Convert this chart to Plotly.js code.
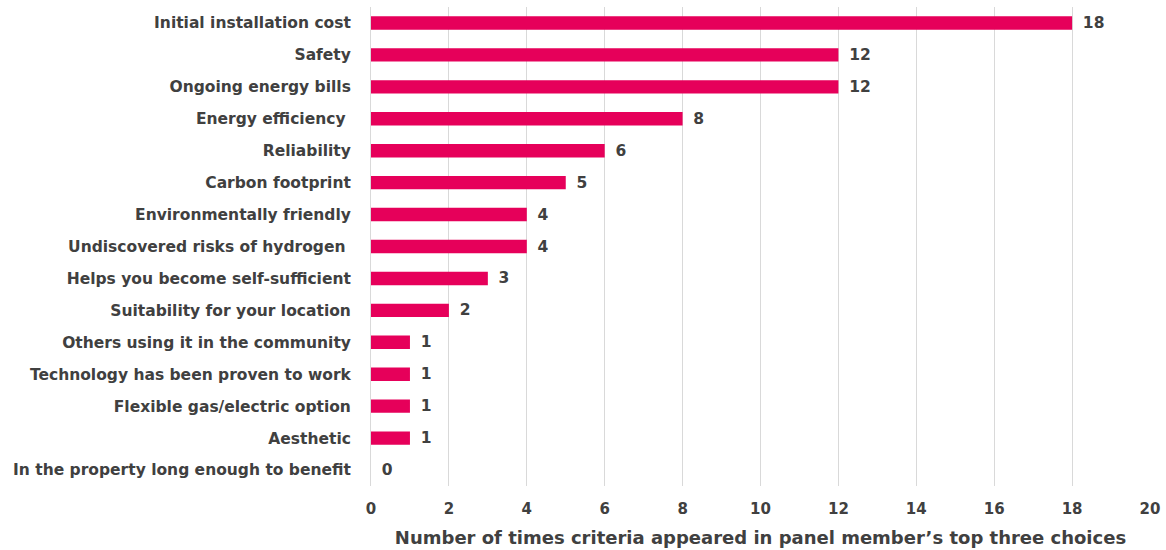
<!DOCTYPE html>
<html>
<head>
<meta charset="utf-8">
<script src="https://cdn.plot.ly/plotly-3.0.1.min.js"></script>
<style>html,body{margin:0;padding:0;background:#fff;}#chart{width:1166px;height:550px;}</style>
</head>
<body>
<div id="chart"></div>
<script>
const categories = [
  "Initial installation cost",
  "Safety",
  "Ongoing energy bills",
  "Energy efficiency\u00a0",
  "Reliability",
  "Carbon footprint",
  "Environmentally friendly",
  "Undiscovered risks of hydrogen\u00a0",
  "Helps you become self-sufficient",
  "Suitability for your location",
  "Others using it in the community",
  "Technology has been proven to work",
  "Flexible gas/electric option",
  "Aesthetic",
  "In the property long enough to benefit"
];
const counts = [18, 12, 12, 8, 6, 5, 4, 4, 3, 2, 1, 1, 1, 1, 0];
const xTicks = [0, 2, 4, 6, 8, 10, 12, 14, 16, 18, 20];
const axisTitle = "Number of times criteria appeared in panel member\u2019s top three choices";

const fontFam = "'DejaVu Sans', sans-serif";
const txtColor = "#404040";

const trace = {
  type: "bar",
  orientation: "h",
  y: categories,
  x: counts,
  width: 0.42,
  marker: {color: "#E6005A"},
  text: counts.map(v => "\u2002" + v),
  textposition: "outside",
  constraintext: "none",
  textfont: {family: fontFam, size: 15.5, color: txtColor, weight: "bold"},
  cliponaxis: false,
  hoverinfo: "none"
};

const layout = {
  width: 1166,
  height: 550,
  margin: {l: 371, r: 16, t: 7, b: 64},
  paper_bgcolor: "#fff",
  plot_bgcolor: "#fff",
  showlegend: false,
  font: {family: fontFam, size: 15, color: txtColor, weight: "bold"},
  xaxis: {
    range: [0, 20],
    tickvals: xTicks,
    ticktext: xTicks.map(String),
    showgrid: true,
    gridcolor: "#D9D9D9",
    gridwidth: 1,
    zeroline: false,
    showline: false,
    ticks: "",
    ticklen: 0,
    ticklabelstandoff: 12,
    tickfont: {family: fontFam, size: 15, color: txtColor, weight: "bold"},
    title: {text: axisTitle, font: {family: fontFam, size: 18, color: txtColor, weight: "bold"}, standoff: 14},
    fixedrange: true
  },
  yaxis: {
    autorange: "reversed",
    type: "category",
    showgrid: false,
    zeroline: false,
    showline: true,
    linecolor: "#D9D9D9",
    linewidth: 1,
    ticks: "",
    ticklabelstandoff: 16,
    tickfont: {family: fontFam, size: 15.5, color: txtColor, weight: "bold"},
    fixedrange: true
  },
  bargap: 0.58
};

Plotly.newPlot("chart", [trace], layout, {displayModeBar: false, staticPlot: true});
</script>
</body>
</html>
